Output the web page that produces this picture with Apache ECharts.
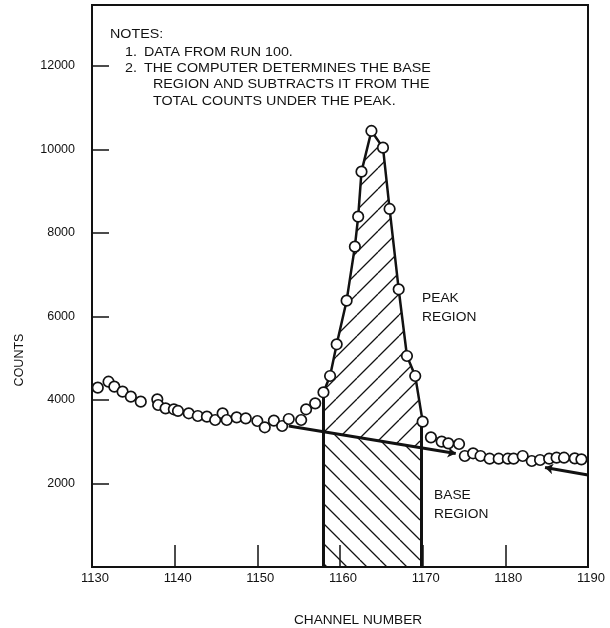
<!DOCTYPE html>
<html>
<head>
<meta charset="utf-8">
<script src="https://cdn.jsdelivr.net/npm/echarts@6/dist/echarts.min.js"></script>
<style>
  html, body { margin: 0; padding: 0; background: #fff; }
  #chart { width: 610px; height: 628px; }
</style>
</head>
<body>
<div id="chart"></div>
<script>
// Spectrum readings around the peak: channel number and counts for each circle
const channels = [
  1130.7, 1132.0, 1132.7, 1133.7, 1134.7, 1135.9, 1137.9, 1138.0, 1138.9, 1139.9,
  1140.4, 1141.7, 1142.8, 1143.9, 1144.9, 1145.8, 1146.3, 1147.5, 1148.6, 1150.0,
  1150.9, 1152.0, 1153.0, 1153.8, 1155.3, 1155.9, 1157.0, 1158.0,
  1158.8, 1159.6, 1160.8, 1161.8, 1162.2, 1162.6, 1163.8, 1165.2, 1166.0, 1167.1,
  1168.1, 1169.1, 1170.0,
  1171.0, 1172.3, 1173.1, 1174.4, 1175.1, 1176.1, 1177.0, 1178.1, 1179.2, 1180.3,
  1181.0, 1182.1, 1183.2, 1184.2, 1185.3, 1186.2, 1187.1, 1188.4, 1189.2, 1190.2
];
const counts = [
  4295, 4438, 4319, 4199, 4079, 3960, 4016, 3880, 3800, 3777,
  3737, 3681, 3617, 3600, 3521, 3681, 3521, 3585, 3561, 3497,
  3346, 3505, 3377, 3545, 3521, 3777, 3920, 4184,
  4575, 5334, 6379, 7672, 8391, 9469, 10443, 10044, 8575, 6651,
  5054, 4575, 3481,
  3106, 3002, 2962, 2946, 2659, 2723, 2659, 2594, 2594, 2594,
  2594, 2659, 2539, 2563, 2594, 2618, 2618, 2603, 2579, 2666
];

// Integration window: channel limits, base-line level and top of each edge line
const windowEdges = [1158.0, 1169.8];
const windowBase = [3240, 2840];
const windowTop = [4184, 3400];

// The fitted base line, drawn in two pieces that end in arrow heads
const baseLineLeft = [[1153.8, 3377], [1174.0, 2719]];
const baseLineRight = [[1190.0, 2205], [1184.8, 2381]];

// Axis ticks
const yTickLabels = [2000, 4000, 6000, 8000, 10000, 12000];

// Notes block and region labels
const noteLines = [
  { num: '', text: 'NOTES:' },
  { num: '1.', text: 'DATA FROM RUN 100.' },
  { num: '2.', text: 'THE COMPUTER DETERMINES THE BASE' },
  { num: '', text: 'REGION AND SUBTRACTS IT FROM THE' },
  { num: '', text: 'TOTAL COUNTS UNDER THE PEAK.' }
];
const peakLabel = ['PEAK', 'REGION'];
const baseLabel = ['BASE', 'REGION'];

const FONT = '"Liberation Sans", Arial, Helvetica, sans-serif';
const INK = '#121212';

const points = channels.map((c, i) => [c, counts[i]]);
const peakPoints = points.filter(p => p[0] >= windowEdges[0] && p[0] <= 1170.0);

// Outlines of the two shaded regions
const peakOutline = [[windowEdges[0], windowBase[0]], [windowEdges[0], windowTop[0]]]
  .concat(peakPoints.slice(1))
  .concat([[windowEdges[1], windowBase[1]]]);
const baseOutline = [
  [windowEdges[0], 0], [windowEdges[0], windowBase[0]],
  [windowEdges[1], windowBase[1]], [windowEdges[1], 0]
];

// Diagonal hatch tiles: '/' for the peak area, '\' for the base area
function hatchTile(dir, step) {
  const c = document.createElement('canvas');
  c.width = step; c.height = step;
  const g = c.getContext('2d');
  g.strokeStyle = INK;
  g.lineWidth = 1.3;
  g.beginPath();
  for (const k of [-1, 0, 1]) {
    if (dir === '/') { g.moveTo(k * step, step); g.lineTo(k * step + step, 0); }
    else { g.moveTo(k * step, 0); g.lineTo(k * step + step, step); }
  }
  g.stroke();
  return c;
}
const peakHatch = { image: hatchTile('/', 21), repeat: 'repeat' };
const baseHatch = { image: hatchTile('\\', 20), repeat: 'repeat' };

// Wide lettering: the text is stretched horizontally a little
function label(text, x, y, size, stretch) {
  return {
    type: 'text', x: x, y: y, scaleX: stretch, silent: true,
    style: { text: text, font: size + 'px ' + FONT, fill: INK, verticalAlign: 'middle' }
  };
}

const graphics = [];
const noteY = [34, 52, 68, 84, 101];
noteLines.forEach((ln, i) => {
  const x = i === 0 ? 110 : (ln.num ? 144 : 153);
  if (ln.num) graphics.push(label(ln.num, 125, noteY[i], 13, 1.1));
  graphics.push(label(ln.text, x, noteY[i], 13, 1.1));
});
peakLabel.forEach((t, i) => graphics.push(label(t, 422, 298 + i * 19, 13, 1.06)));
baseLabel.forEach((t, i) => graphics.push(label(t, 434, 495 + i * 19, 13, 1.06)));
graphics.push({
  type: 'text', x: 20, y: 360, rotation: Math.PI / 2, silent: true,
  style: { text: 'COUNTS', font: '12.5px ' + FONT, fill: INK, align: 'center', verticalAlign: 'middle' }
});
graphics.push({
  type: 'text', x: 358, y: 620, scaleX: 1.05, silent: true,
  style: { text: 'CHANNEL NUMBER', font: '13px ' + FONT, fill: INK, align: 'center', verticalAlign: 'middle' }
});

const chart = echarts.init(document.getElementById('chart'), null, { renderer: 'canvas' });
chart.setOption({
  animation: false,
  backgroundColor: '#fff',
  grid: { left: 92, right: 22, top: 5, bottom: 61, show: true, borderColor: INK, borderWidth: 2 },
  xAxis: {
    type: 'value', min: 1130, max: 1190, interval: 10,
    axisLine: { lineStyle: { color: INK, width: 2 } },
    axisTick: { inside: true, length: 22, lineStyle: { color: INK, width: 1.5 } },
    axisLabel: {
      color: INK, fontSize: 13, fontFamily: FONT, margin: 5, padding: [0, 0, 0, 6],
      formatter: v => String(v)
    },
    splitLine: { show: false }
  },
  yAxis: {
    type: 'value', min: 0, max: 13460, interval: 2000,
    axisLine: { show: true, lineStyle: { color: INK, width: 2 } },
    axisTick: { inside: true, length: 17, lineStyle: { color: INK, width: 1.5 } },
    axisLabel: {
      color: INK, fontSize: 12.5, fontFamily: FONT, margin: 17,
      formatter: v => (yTickLabels.includes(v) ? String(v) : '')
    },
    splitLine: { show: false }
  },
  graphic: graphics,
  series: [
    {
      type: 'custom', coordinateSystem: 'cartesian2d', z: 1, silent: true,
      data: [[windowEdges[0], 0], [windowEdges[1], 0]],
      encode: { x: 0, y: 1 },
      renderItem: (params, api) => {
        const outline = params.dataIndex === 0 ? peakOutline : baseOutline;
        return {
          type: 'polygon',
          shape: { points: outline.map(p => api.coord(p)) },
          style: { fill: params.dataIndex === 0 ? peakHatch : baseHatch, stroke: null }
        };
      }
    },
    {
      type: 'lines', coordinateSystem: 'cartesian2d', z: 2, silent: true,
      symbol: 'none',
      lineStyle: { color: INK, width: 3, opacity: 1 },
      data: [
        { coords: [[windowEdges[0], 0], [windowEdges[0], windowTop[0]]] },
        { coords: [[windowEdges[1], 0], [windowEdges[1], windowTop[1]]] }
      ]
    },
    {
      type: 'lines', coordinateSystem: 'cartesian2d', z: 2, silent: true,
      symbol: ['none', 'arrow'], symbolSize: 8,
      lineStyle: { color: INK, width: 3, opacity: 1 },
      data: [{ coords: baseLineLeft }, { coords: baseLineRight }]
    },
    {
      type: 'line', z: 3, silent: true,
      data: peakPoints, showSymbol: false, symbol: 'none',
      lineStyle: { color: INK, width: 2.5 }
    },
    {
      type: 'scatter', z: 4, silent: true,
      data: points, symbol: 'circle', symbolSize: 10.5,
      itemStyle: { color: '#fff', borderColor: INK, borderWidth: 1.7, opacity: 1 }
    }
  ]
});
</script>
</body>
</html>
